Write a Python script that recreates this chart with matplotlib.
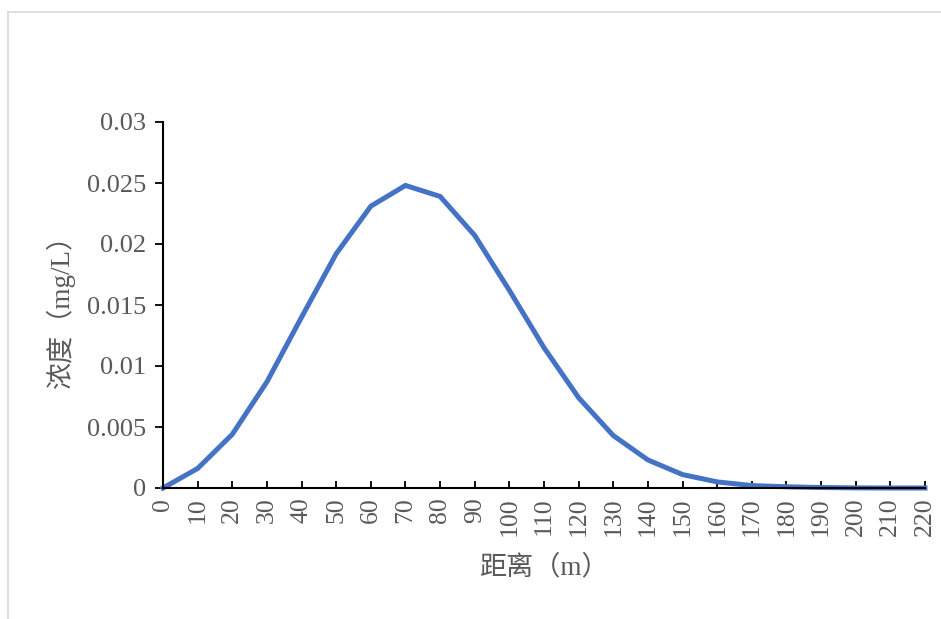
import matplotlib.pyplot as plt
from matplotlib.lines import Line2D

plt.rcParams['font.family'] = ['Liberation Serif', 'Noto Sans CJK SC']

distance = [0, 10, 20, 30, 40, 50, 60, 70, 80, 90, 100, 110,
            120, 130, 140, 150, 160, 170, 180, 190, 200, 210, 220]
concentration = [0.0, 0.0016, 0.0044, 0.0087, 0.0140, 0.0192, 0.0231, 0.0248,
                 0.0239, 0.0207, 0.0162, 0.0115, 0.0074, 0.0043, 0.0023, 0.0011,
                 0.0005, 0.0002, 0.0001, 0.00004, 0.00001, 0.0, 0.0]
y_ticks = [0, 0.005, 0.01, 0.015, 0.02, 0.025, 0.03]
y_labels = ['0', '0.005', '0.01', '0.015', '0.02', '0.025', '0.03']

text_color = '#595959'

fig = plt.figure(figsize=(9.41, 6.19), dpi=100)
ax = fig.add_axes([163 / 941, 1 - 488 / 619, (925 - 163) / 941, (488 - 122) / 619])

ax.plot(distance, concentration, color='#4472C4', linewidth=3.6,
        solid_joinstyle='miter', clip_on=False)

ax.set_xlim(0, 220)
ax.set_ylim(0, 0.03)
ax.set_xticks(distance)
ax.set_xticklabels([str(d) for d in distance], rotation=90, va='top')
ax.set_yticks(y_ticks)
ax.set_yticklabels(y_labels)

for side in ['top', 'right']:
    ax.spines[side].set_visible(False)
for side in ['left', 'bottom']:
    ax.spines[side].set_linewidth(1.5)
    ax.spines[side].set_color('black')

ax.tick_params(axis='x', direction='in', length=5, width=1.3, pad=7,
               labelsize=18.5, labelcolor=text_color)
ax.tick_params(axis='y', direction='out', length=6, width=1.3, pad=6,
               labelsize=19, labelcolor=text_color)

ax.set_xlabel('距离（m）', fontsize=19.5, color=text_color, labelpad=13)
ax.set_ylabel('浓度（mg/L）', fontsize=19.5, color=text_color, labelpad=9)

# light outer frame like the chart area border
fig.add_artist(Line2D([8 / 941, 8 / 941], [0, 1 - 12 / 619], transform=fig.transFigure,
                      color='#D9D9D9', linewidth=1.2))
fig.add_artist(Line2D([8 / 941, 1], [1 - 12 / 619, 1 - 12 / 619], transform=fig.transFigure,
                      color='#D9D9D9', linewidth=1.2))

fig.savefig('out.png', dpi=100)
